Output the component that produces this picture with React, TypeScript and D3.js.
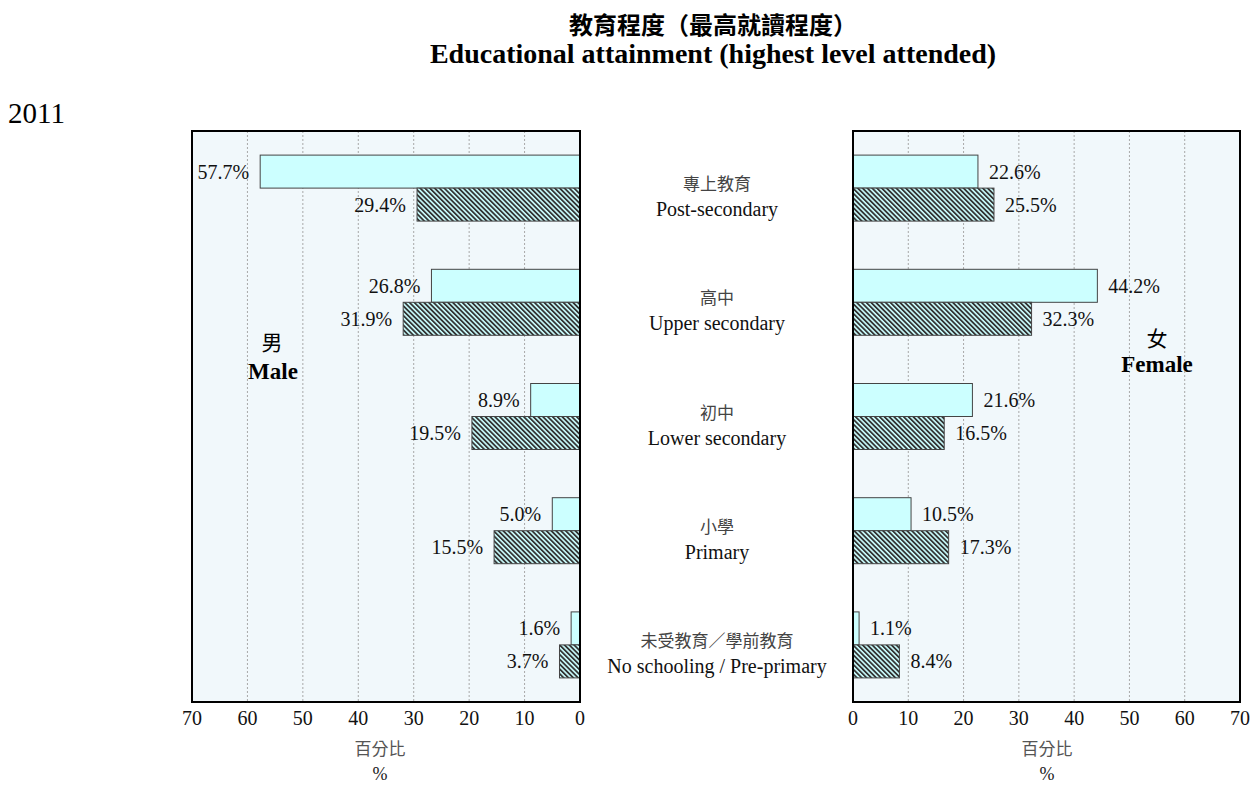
import React from "react";
import * as d3 from "d3";

const categoriesZh = ["專上教育", "高中", "初中", "小學", "未受教育／學前教育"];
const categoriesEn = ["Post-secondary", "Upper secondary", "Lower secondary", "Primary", "No schooling / Pre-primary"];
const male2011Light = [57.7, 26.8, 8.9, 5.0, 1.6];
const male2011Hatched = [29.4, 31.9, 19.5, 15.5, 3.7];
const female2011Light = [22.6, 44.2, 21.6, 10.5, 1.1];
const female2011Hatched = [25.5, 32.3, 16.5, 17.3, 8.4];
const tickValues = [0, 10, 20, 30, 40, 50, 60, 70];
const gridValues = [10, 20, 30, 40, 50, 60];

const W = 1254;
const H = 787;
const TOP = 131;
const BOTTOM = 702;
const serif = "'Liberation Serif', 'Times New Roman', serif";
const cjk = "'Noto Sans CJK TC', 'Noto Sans CJK SC', sans-serif";

export default function App() {
  const xL = d3.scaleLinear().domain([0, 70]).range([580, 192]);
  const xR = d3.scaleLinear().domain([0, 70]).range([853, 1240]);
  const y = d3.scaleBand<number>().domain(d3.range(categoriesEn.length)).range([TOP, BOTTOM]).padding(0);
  const barH = 33;
  const fmt = (v: number) => v.toFixed(1) + "%";
  const titleX = (xL(70) + xR(70)) / 2 - 3;

  const panel = (x: d3.ScaleLinear<number, number>, side: "L" | "R") => {
    const x0 = Math.min(x(0), x(70));
    const x1 = Math.max(x(0), x(70));
    const light = side === "L" ? male2011Light : female2011Light;
    const hatched = side === "L" ? male2011Hatched : female2011Hatched;
    const labelX = (v: number) => (side === "L" ? x(v) - 11 : x(v) + 11);
    const anchor = side === "L" ? "end" : "start";
    const cx = side === "L" ? 380 : 1047;
    return (
      <g>
        <rect x={x0} y={TOP} width={x1 - x0} height={BOTTOM - TOP} fill="#F1F8FB" />
        {gridValues.map((g) => (
          <line key={g} x1={x(g)} x2={x(g)} y1={TOP} y2={BOTTOM} stroke="#a8a8a8" strokeWidth={1} strokeDasharray="2,2" />
        ))}
        {light.map((v, i) => {
          const c = (y(i) as number) + y.bandwidth() / 2;
          const xa = x(0), xb = x(v);
          return (
            <g key={"l" + i}>
              <rect x={Math.min(xa, xb)} y={c - barH} width={Math.abs(xb - xa)} height={barH} fill="#CCFFFF" stroke="#444" strokeWidth={1} />
              <text x={labelX(v)} y={c - barH / 2 + 7} textAnchor={anchor} fontFamily={serif} fontSize={20} fill="#111">{fmt(v)}</text>
            </g>
          );
        })}
        {hatched.map((v, i) => {
          const c = (y(i) as number) + y.bandwidth() / 2;
          const xa = x(0), xb = x(v);
          return (
            <g key={"h" + i}>
              <rect x={Math.min(xa, xb)} y={c} width={Math.abs(xb - xa)} height={barH} fill="url(#hatch)" stroke="#444" strokeWidth={1} />
              <text x={labelX(v)} y={c + barH / 2 + 7} textAnchor={anchor} fontFamily={serif} fontSize={20} fill="#111">{fmt(v)}</text>
            </g>
          );
        })}
        <rect x={x0} y={TOP} width={x1 - x0} height={BOTTOM - TOP} fill="none" stroke="#000" strokeWidth={2} />
        {tickValues.map((t) => (
          <text key={t} x={x(t)} y={725} textAnchor="middle" fontFamily={serif} fontSize={20} fill="#111">{t}</text>
        ))}
        <text x={cx} y={755} textAnchor="middle" fontFamily={cjk} fontSize={17} fill="#555">百分比</text>
        <text x={cx} y={780} textAnchor="middle" fontFamily={serif} fontSize={18} fill="#222">%</text>
      </g>
    );
  };

  return (
    <svg width={W} height={H} style={{ position: "absolute", left: 0, top: 0, background: "#fff" }}>
      <defs>
        <pattern id="hatch" patternUnits="userSpaceOnUse" width={3.4} height={3.4} patternTransform="rotate(-45)">
          <rect x={0} y={0} width={3.4} height={3.4} fill="#CCFFFF" />
          <rect x={0} y={0} width={1.8} height={3.4} fill="#333" />
        </pattern>
      </defs>
      <text x={titleX} y={34} textAnchor="middle" fontFamily={cjk} fontWeight="bold" fontSize={24} fill="#000">教育程度（最高就讀程度）</text>
      <text x={titleX} y={63} textAnchor="middle" fontFamily={serif} fontWeight="bold" fontSize={28} fill="#000">Educational attainment (highest level attended)</text>
      <text x={8} y={123} fontFamily={serif} fontSize={29} fill="#000">2011</text>
      {panel(xL, "L")}
      {panel(xR, "R")}
      {categoriesEn.map((en, i) => {
        const c = (y(i) as number) + y.bandwidth() / 2;
        return (
          <g key={en}>
            <text x={717} y={c + 2} textAnchor="middle" fontFamily={cjk} fontSize={17} fill="#444">{categoriesZh[i]}</text>
            <text x={717} y={c + 28} textAnchor="middle" fontFamily={serif} fontSize={20} fill="#111">{en}</text>
          </g>
        );
      })}
      <text x={272} y={350} textAnchor="middle" fontFamily={cjk} fontSize={21} fill="#000">男</text>
      <text x={273} y={379} textAnchor="middle" fontFamily={serif} fontWeight="bold" fontSize={23} fill="#000">Male</text>
      <text x={1157} y={346} textAnchor="middle" fontFamily={cjk} fontSize={21} fill="#000">女</text>
      <text x={1157} y={372} textAnchor="middle" fontFamily={serif} fontWeight="bold" fontSize={23} fill="#000">Female</text>
    </svg>
  );
}
